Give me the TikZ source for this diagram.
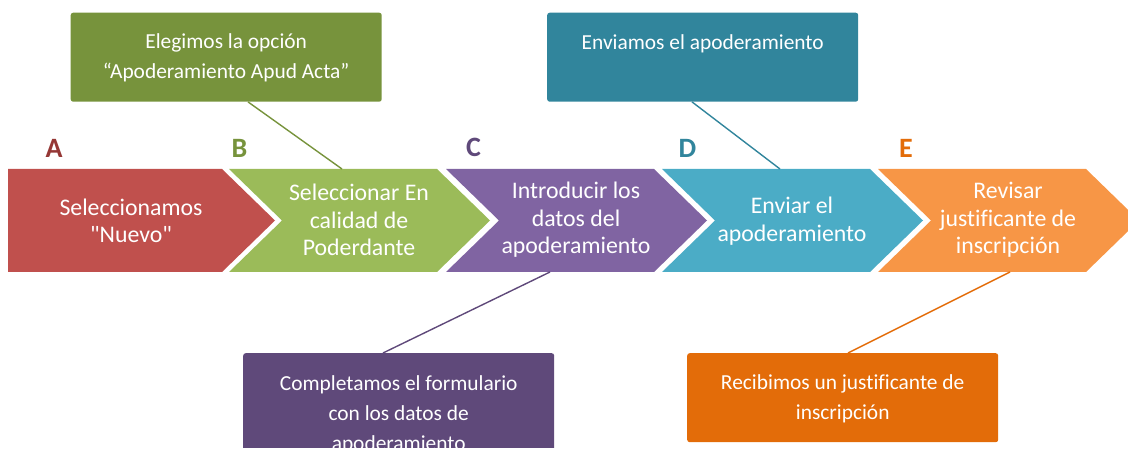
\documentclass[tikz,border=0pt]{standalone}
\usepackage{fontspec}
\setmainfont{Carlito}[Ligatures={TeXOff,NoCommon}]
\usetikzlibrary{calc}
\definecolor{chA}{HTML}{C0504D}
\definecolor{chB}{HTML}{9BBB59}
\definecolor{chC}{HTML}{8064A2}
\definecolor{chD}{HTML}{4BACC6}
\definecolor{chE}{HTML}{F79646}
\definecolor{dkA}{HTML}{953735}
\definecolor{dkB}{HTML}{77933C}
\definecolor{dkC}{HTML}{5F497A}
\definecolor{dkD}{HTML}{31859C}
\definecolor{dkE}{HTML}{E36C09}
\begin{document}
\begin{tikzpicture}[x=1pt,y=-1pt,
  chevtext/.style={text=white,align=center,inner sep=0pt,font=\fontsize{23.8}{27.5}\selectfont},
  letter/.style={anchor=base,inner sep=0pt,font=\fontsize{28}{30}\selectfont\bfseries},
  callout/.style={rounded corners=2.5pt,minimum width=311pt,minimum height=89pt,inner sep=0pt,anchor=north west},
  callouttext/.style={text=white,align=center,anchor=base,inner sep=0pt,font=\fontsize{21.4}{30}\selectfont},
  link/.style={line width=1.4pt}]
\useasboundingbox (0,0) rectangle (1128,457);
\clip (0,0) rectangle (1128,447.5);
% chevrons
\fill[chA] (8,169) -- (222,169) -- (275,220.5) -- (222,272) -- (8,272) -- cycle;
\foreach \x/\c in {229/chB,446/chC,662/chD,878/chE}{
  \fill[\c] (\x,169) -- ({\x+208},169) -- ({\x+261},220.5) -- ({\x+208},272) -- (\x,272) -- ({\x+53},220.5) -- cycle;
}
% chevron texts
\node[chevtext] (tA) at (131,221) {Seleccionamos\\"Nuevo"};
\node[chevtext] (tB) at (359,220) {Seleccionar En\\calidad de\\Poderdante};
\node[chevtext] (tC) at (576,220) {Introducir los\\datos del\\apoderamiento};
\node[chevtext] (tD) at (792,221) {Enviar el\\apoderamiento};
\node[chevtext] (tE) at (1008,220) {Revisar\\justificante de\\inscripción};
% letters
\node[letter,text=dkA] (lA) at (54,158) {A};
\node[letter,text=dkB] (lB) at (239.5,158) {B};
\node[letter,text=dkC] (lC) at (473.5,156.5) {C};
\node[letter,text=dkD] (lD) at (687.5,157.5) {D};
\node[letter,text=dkE] (lE) at (906,158) {E};
% attachment points on chevrons
\coordinate (pB) at (342,169);
\coordinate (pC) at (550,272);
\coordinate (pD) at (780,169);
\coordinate (pE) at (1010,272);
% callout boxes
\node[callout,fill=dkB] (bG) at (70.5,12.5) {};
\node[callout,fill=dkD] (bT) at (547,12.5) {};
\node[callout,fill=dkC,minimum height=110pt] (bP) at (243,353) {};
\node[callout,fill=dkE] (bO) at (687,353) {};
% (anchor=base is the baseline of the last line)
\node[callouttext] (xG) at ($(bG.north)+(0,36.5+30)$) {Elegimos la opción\\“Apoderamiento Apud Acta”};
\node[callouttext] (xT) at ($(bT.north)+(0,37)$) {Enviamos el apoderamiento};
\node[callouttext] (xP) at ($(bP.north)+(0,37+60)$) {Completamos el formulario\\con los datos de\\apoderamiento};
\node[callouttext] (xO) at ($(bO.north)+(0,36+30)$) {Recibimos un justificante de\\inscripción};
% connectors
\draw[link,dkB] ([xshift=177.5pt]bG.south west) -- (pB);
\draw[link,dkD] ([xshift=145pt]bT.south west) -- (pD);
\draw[link,dkC] (pC) -- ([xshift=140pt]bP.north west);
\draw[link,dkE] (pE) -- ([xshift=161pt]bO.north west);
\end{tikzpicture}
\end{document}
